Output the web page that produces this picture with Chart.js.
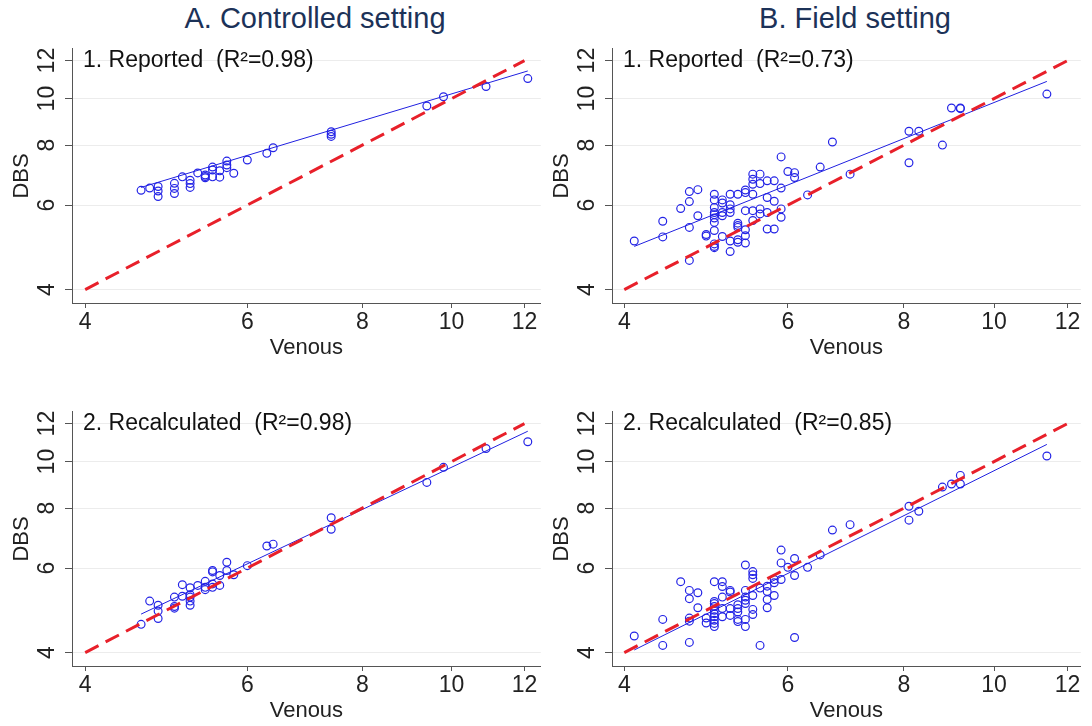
<!DOCTYPE html>
<html>
<head>
<meta charset="utf-8">
<script src="https://cdn.jsdelivr.net/npm/chart.js@4.4.1/dist/chart.umd.min.js"></script>
<style>
    body { margin: 0; background: #fff; }
    #lienzo { position: relative; width: 1092px; height: 726px; overflow: hidden; }
    canvas { position: absolute; }
    .titulo { position: absolute; top: 0; width: 630px; text-align: center; font: 29px "Liberation Sans", Arial, sans-serif; line-height: 36px; color: #1c3258; }
</style>
</head>
<body>
<div id="lienzo">
    <div class="titulo" style="left:0px">A. Controlled setting</div>
    <div class="titulo" style="left:540px">B. Field setting</div>
    <canvas id="ctlRep" width="546" height="333" style="left:0px;top:30px"></canvas>
    <canvas id="fldRep" width="546" height="333" style="left:540px;top:30px"></canvas>
    <canvas id="ctlRec" width="546" height="333" style="left:0px;top:393px"></canvas>
    <canvas id="fldRec" width="546" height="333" style="left:540px;top:393px"></canvas>
</div>
<script>
// valores (Hb g/dL)
const tickVals = [4, 6, 8, 10, 12];
const idX = [4, 12];
const idY = [4, 12];

// A.1 controlado, reportado
const ctlRepX = [4.6, 4.7, 4.8, 4.8, 4.8, 5.0, 5.0, 5.0, 5.1, 5.2, 5.2, 5.2, 5.3, 5.4, 5.4, 5.4, 5.5, 5.5, 5.5, 5.6, 5.6, 5.7, 5.7, 5.7, 5.8, 6.0, 6.3, 6.4, 7.4, 7.4, 7.4, 9.4, 9.8, 10.9, 12.1];
const ctlRepY = [6.44, 6.51, 6.56, 6.42, 6.25, 6.66, 6.50, 6.34, 6.87, 6.76, 6.65, 6.53, 7.00, 6.93, 6.84, 6.88, 7.20, 7.10, 6.87, 7.07, 6.86, 7.41, 7.27, 7.18, 6.99, 7.45, 7.69, 7.90, 8.53, 8.34, 8.43, 9.65, 10.09, 10.60, 11.01];
const ctlRepFitX = [4.6, 12.1];
const ctlRepFitY = [6.53, 11.42];

// A.2 controlado, recalculado
const ctlRecX = [4.6, 4.7, 4.8, 4.8, 4.8, 5.0, 5.0, 5.0, 5.1, 5.1, 5.2, 5.2, 5.2, 5.2, 5.2, 5.3, 5.4, 5.4, 5.4, 5.5, 5.5, 5.5, 5.5, 5.6, 5.6, 5.7, 5.7, 5.8, 6.0, 6.3, 6.4, 7.4, 7.4, 9.4, 9.8, 10.9, 12.1];
const ctlRecY = [4.58, 5.12, 5.02, 4.88, 4.71, 5.22, 4.99, 4.95, 5.54, 5.24, 5.46, 5.28, 5.22, 5.12, 5.02, 5.52, 5.63, 5.47, 5.41, 5.93, 5.89, 5.56, 5.47, 5.79, 5.52, 6.17, 5.93, 5.81, 6.07, 6.67, 6.73, 7.64, 7.23, 9.05, 9.73, 10.65, 11.00];
const ctlRecFitX = [4.6, 12.1];
const ctlRecFitY = [4.81, 11.57];

// B.1 campo, reportado
const fldRepX = [4.1, 4.4, 4.4, 4.6, 4.7, 4.7, 4.7, 4.7, 4.8, 4.8, 4.9, 4.9,
    5.0, 5.0, 5.0, 5.0, 5.0, 5.0, 5.0, 5.0, 5.0, 5.0, 5.0,
    5.1, 5.1, 5.1, 5.1, 5.1, 5.2, 5.2, 5.2, 5.2, 5.2, 5.2,
    5.3, 5.3, 5.3, 5.3, 5.3, 5.3, 5.4, 5.4, 5.4, 5.4, 5.4, 5.4,
    5.5, 5.5, 5.5, 5.5, 5.5, 5.5, 5.6, 5.6, 5.6, 5.6, 5.7, 5.7, 5.7, 5.7,
    5.8, 5.8, 5.8, 5.9, 5.9, 5.9, 5.9, 6.0, 6.1, 6.1, 6.3, 6.5, 6.7, 7.0,
    8.1, 8.1, 8.3, 8.8, 9.0, 9.2, 9.2, 11.4];
const fldRepY = [5.05, 5.55, 5.15, 5.90, 6.40, 6.10, 5.39, 4.60, 6.46, 5.70, 5.21, 5.17,
    6.32, 6.15, 5.93, 5.79, 5.73, 5.64, 5.52, 5.31, 4.98, 4.92, 4.89,
    6.15, 6.06, 5.79, 5.70, 5.16, 6.32, 6.01, 5.89, 5.79, 5.05, 4.80,
    6.32, 5.50, 5.44, 5.39, 5.08, 5.02, 6.45, 6.37, 5.84, 5.33, 5.18, 5.00,
    6.96, 6.79, 6.63, 6.32, 5.84, 5.57, 6.96, 6.65, 5.89, 5.75, 6.74, 6.22, 5.79, 5.35,
    6.74, 6.11, 5.35, 7.56, 6.51, 5.89, 5.66, 7.05, 7.01, 6.85, 6.30, 7.20, 8.12, 6.96,
    8.55, 7.35, 8.55, 8.00, 9.56, 9.56, 9.53, 10.22];
const fldRepFitX = [4.1, 11.4];
const fldRepFitY = [4.92, 10.86];

// B.2 campo, recalculado
const fldRecX = [4.1, 4.4, 4.4, 4.6, 4.7, 4.7, 4.7, 4.7, 4.7, 4.8, 4.8, 4.9, 4.9,
    5.0, 5.0, 5.0, 5.0, 5.0, 5.0, 5.0, 5.0, 5.0, 5.0,
    5.1, 5.1, 5.1, 5.1, 5.1, 5.2, 5.2, 5.2, 5.2,
    5.3, 5.3, 5.3, 5.3, 5.3, 5.4, 5.4, 5.4, 5.4, 5.4, 5.4, 5.4,
    5.5, 5.5, 5.5, 5.5, 5.5, 5.5, 5.6, 5.6, 5.7, 5.7, 5.7, 5.7,
    5.8, 5.8, 5.8, 5.9, 5.9, 5.9, 6.0, 6.1, 6.1, 6.1, 6.3, 6.5, 6.7, 7.0,
    8.1, 8.1, 8.3, 8.8, 9.0, 9.2, 9.2, 11.4];
const fldRecY = [4.33, 4.69, 4.14, 5.62, 5.39, 5.18, 4.72, 4.65, 4.20, 5.33, 4.96, 4.72, 4.61,
    5.62, 5.11, 5.06, 4.99, 4.90, 4.82, 4.75, 4.67, 4.60, 4.53,
    5.62, 5.49, 5.22, 4.94, 4.75, 5.39, 5.35, 4.94, 4.78,
    5.03, 4.94, 4.86, 4.69, 4.64, 6.09, 5.39, 5.22, 5.14, 5.06, 4.69, 4.53,
    5.90, 5.81, 5.71, 5.26, 4.92, 4.80, 5.45, 4.14, 5.50, 5.36, 5.16, 4.96,
    5.68, 5.59, 5.26, 6.54, 6.15, 5.68, 6.02, 6.28, 5.79, 4.30, 6.02, 6.39, 7.20, 7.39,
    8.07, 7.55, 7.88, 8.85, 8.98, 9.36, 8.98, 10.27];
const fldRecFitX = [4.1, 11.4];
const fldRecFitY = [4.05, 10.86];

Chart.defaults.font.family = '"Liberation Sans", Arial, sans-serif';
Chart.defaults.color = '#222';

function pares(xs, ys) {
    let res = [];
    for (let i = 0; i < xs.length; i++) {
        res.push({ x: xs[i], y: ys[i] });
    }
    return res;
}

// texto dentro del panel
const etiqueta = {
    id: 'etiqueta',
    afterDraw(chart, args, opts) {
        const ctx = chart.ctx;
        ctx.save();
        ctx.font = '23px "Liberation Sans", Arial, sans-serif';
        ctx.fillStyle = '#111';
        ctx.textBaseline = 'middle';
        ctx.fillText(opts.text, chart.chartArea.left + 11, chart.chartArea.top + 12);
        ctx.restore();
    }
};

function fijarTicks(scale) {
    scale.ticks = tickVals.map(v => ({ value: v }));
}

function panel(id, texto, xs, ys, fitX, fitY, xmin, xmax) {
    var ctx = document.getElementById(id);
    var myChart = new Chart(ctx, {
        type: 'scatter',
        data: {
            datasets: [{
                data: pares(idX, idY),
                showLine: true,
                borderColor: '#e8202a',
                borderWidth: 3,
                borderDash: [15, 8],
                pointRadius: 0
            }, {
                data: pares(fitX, fitY),
                showLine: true,
                borderColor: '#2020e0',
                borderWidth: 1,
                pointRadius: 0
            }, {
                data: pares(xs, ys),
                pointStyle: 'circle',
                pointRadius: 3.9,
                borderWidth: 1.2,
                borderColor: '#2424e6',
                backgroundColor: 'rgba(0,0,0,0)'
            }]
        },
        options: {
            responsive: false,
            animation: false,
            layout: { padding: { top: 17, right: 4, left: 0, bottom: 0 } },
            plugins: {
                legend: { display: false },
                tooltip: { enabled: false },
                etiqueta: { text: texto }
            },
            scales: {
                x: {
                    type: 'logarithmic',
                    min: xmin,
                    max: xmax,
                    afterBuildTicks: fijarTicks,
                    afterFit: function (s) { s.height = 60; },
                    border: { color: '#555', width: 1 },
                    grid: { drawOnChartArea: false, tickLength: 5, tickColor: '#555' },
                    ticks: {
                        font: { size: 23 },
                        color: '#222',
                        padding: 1,
                        maxRotation: 0,
                        autoSkip: false,
                        callback: function (v) { return v; }
                    },
                    title: {
                        display: true,
                        text: 'Venous',
                        font: { size: 22 },
                        color: '#222',
                        padding: { top: 0, bottom: 2 }
                    }
                },
                y: {
                    type: 'logarithmic',
                    min: 3.75,
                    max: 12.7,
                    afterBuildTicks: fijarTicks,
                    afterFit: function (s) { s.width = 72; },
                    border: { color: '#555', width: 1 },
                    grid: { color: '#ececec', tickLength: 7, tickColor: '#555' },
                    ticks: {
                        font: { size: 23 },
                        color: '#222',
                        padding: 5,
                        minRotation: 90,
                        maxRotation: 90,
                        crossAlign: 'center',
                        autoSkip: false,
                        callback: function (v) { return v; }
                    },
                    title: {
                        display: true,
                        text: 'DBS',
                        font: { size: 22 },
                        color: '#222',
                        padding: { top: 9, bottom: 0 }
                    }
                }
            }
        },
        plugins: [etiqueta]
    });
}

panel('ctlRep', '1. Reported  (R²=0.98)', ctlRepX, ctlRepY, ctlRepFitX, ctlRepFitY, 3.87, 12.5);
panel('fldRep', '1. Reported  (R²=0.73)', fldRepX, fldRepY, fldRepFitX, fldRepFitY, 3.88, 12.4);
panel('ctlRec', '2. Recalculated  (R²=0.98)', ctlRecX, ctlRecY, ctlRecFitX, ctlRecFitY, 3.87, 12.5);
panel('fldRec', '2. Recalculated  (R²=0.85)', fldRecX, fldRecY, fldRecFitX, fldRecFitY, 3.88, 12.4);
</script>
</body>
</html>
